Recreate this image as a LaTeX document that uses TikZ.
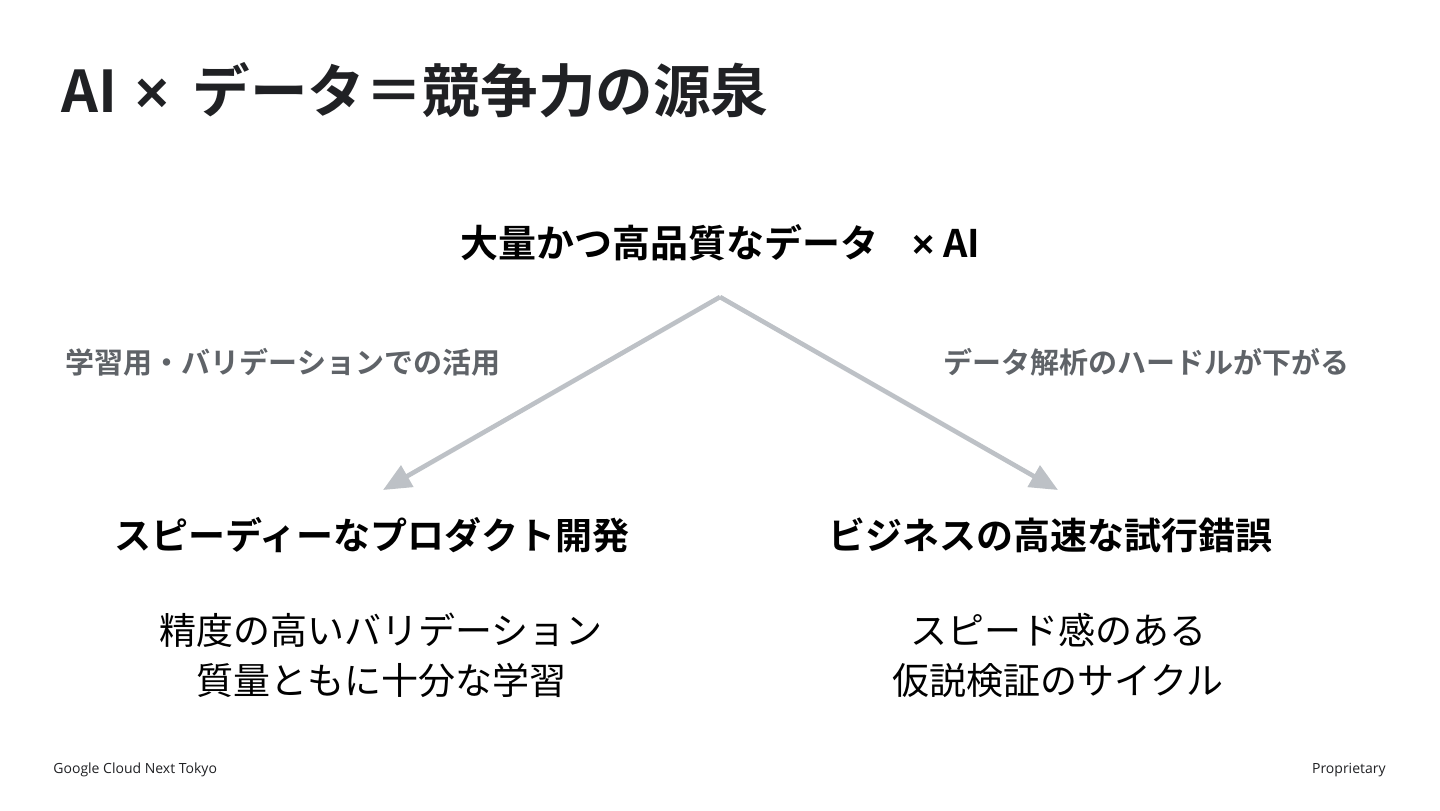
\documentclass[tikz,border=0pt]{standalone}
\usepackage{fontspec}
\setmainfont{Noto Sans CJK JP}
\newfontfamily\jpb{Noto Sans CJK JP Bold}
\newfontfamily\jpr{Noto Sans CJK JP}
\newfontfamily\footfont{Open Sans}
\newfontfamily\latb{Liberation Sans Bold}
\newcommand{\mytimes}{{\latb ×}}
\usetikzlibrary{arrows.meta}
\definecolor{titlecol}{HTML}{202124}
\definecolor{greytxt}{HTML}{5F6368}
\definecolor{arrowcol}{HTML}{BDC1C6}
\tikzset{
  titlestyle/.style={inner sep=0pt, text=titlecol, font=\jpb\fontsize{28.8pt}{32pt}\selectfont},
  mainstyle/.style={inner sep=0pt, text=black, font=\jpb\fontsize{19pt}{23pt}\selectfont},
  labelstyle/.style={inner sep=0pt, text=greytxt, font=\jpb\fontsize{14.5pt}{18pt}\selectfont},
  headstyle/.style={inner sep=0pt, text=black, font=\jpb\fontsize{18.5pt}{22pt}\selectfont},
  substyle/.style={inner sep=0pt, text=black, align=center, font=\jpr\fontsize{18.5pt}{25pt}\selectfont},
  footstyle/.style={inner sep=0pt, text=titlecol, font=\footfont\fontsize{7pt}{9pt}\selectfont},
  arrowstyle/.style={draw=arrowcol, line width=2.3pt, -{Triangle[length=14pt,width=12pt]}}
}
\begin{document}
\begin{tikzpicture}[x=0.5pt,y=-0.5pt]
\useasboundingbox[fill=white] (0,0) rectangle (1440,810);
\node[titlestyle, anchor=west] (title) at (61,90) {AI\hspace{0.32em}\mytimes\hspace{0.4em}データ＝競争力の源泉};
\node[mainstyle] (main) at (720,243) {大量かつ高品質なデータ\hspace{0.9em}\mytimes\ AI};
\node[labelstyle] (lblL) at (283,362) {学習用・バリデーションでの活用};
\node[labelstyle] (lblR) at (1146,362) {データ解析のハードルが下がる};
\node[headstyle] (headL) at (372,535) {スピーディーなプロダクト開発};
\node[headstyle] (headR) at (1050,535) {ビジネスの高速な試行錯誤};
\node[substyle] (subL) at (381,655) {精度の高いバリデーション\\質量ともに十分な学習};
\node[substyle] (subR) at (1058,655) {スピード感のある\\仮説検証のサイクル};
\coordinate (apex) at (720,297);
\coordinate (endL) at (383,490);
\coordinate (endR) at (1058,490);
\draw[arrowstyle] (apex) -- (endL);
\draw[arrowstyle] (apex) -- (endR);
\node[footstyle, anchor=west] (footL) at (53,770) {Google Cloud Next Tokyo};
\node[footstyle, anchor=east] (footR) at (1386,770) {Proprietary};
\end{tikzpicture}
\end{document}
